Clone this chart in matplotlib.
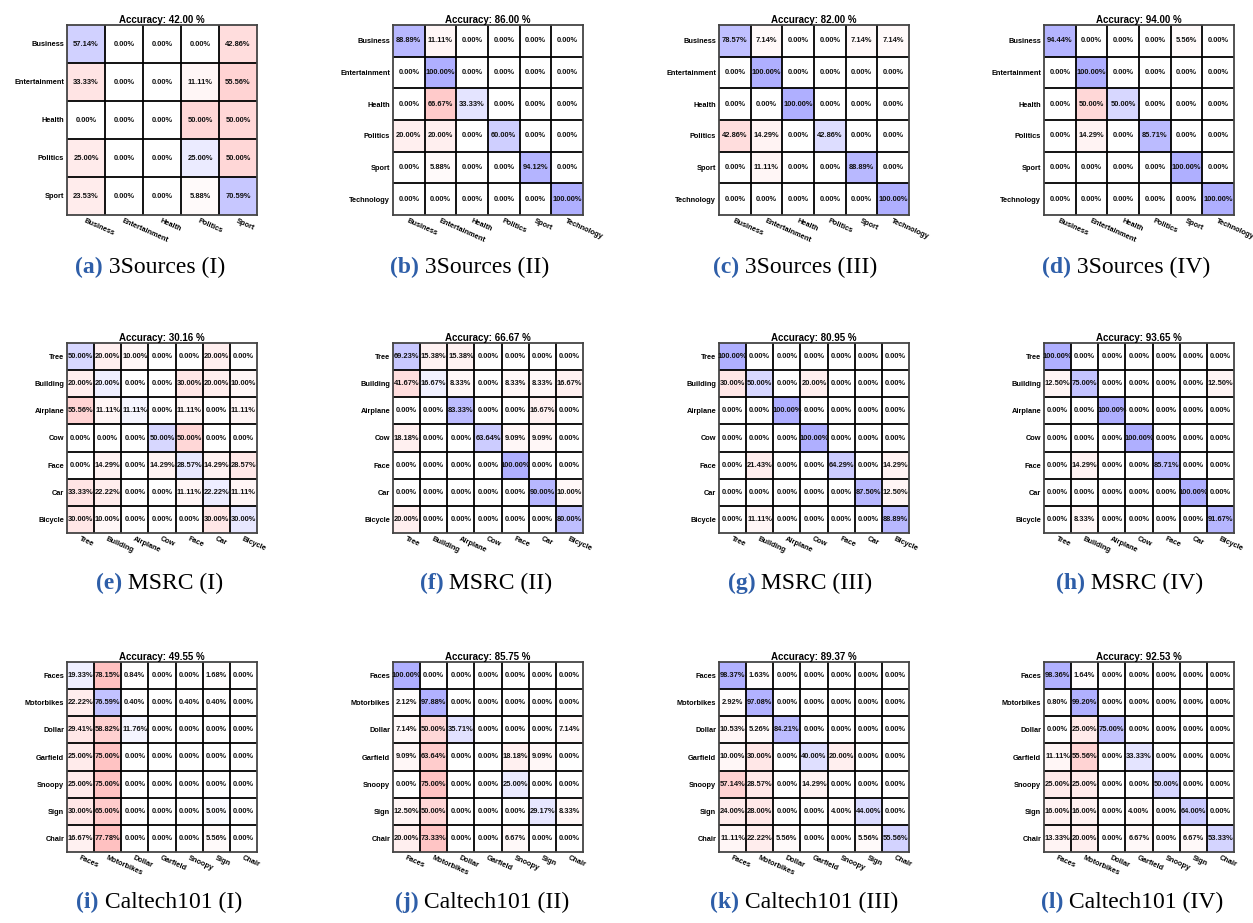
import matplotlib
matplotlib.use('Agg')
import matplotlib.pyplot as plt
import numpy as np

plt.rcParams['font.family'] = ['Liberation Sans', 'DejaVu Sans']

# class names
SOURCES5 = ['Business', 'Entertainment', 'Health', 'Politics', 'Sport']
SOURCES6 = SOURCES5 + ['Technology']
MSRC = ['Tree', 'Building', 'Airplane', 'Cow', 'Face', 'Car', 'Bicycle']
CALTECH = ['Faces', 'Motorbikes', 'Dollar', 'Garfield', 'Snoopy', 'Sign', 'Chair']

# confusion matrices (% per row)
cm_a = [[57.14, 0, 0, 0, 42.86],
        [33.33, 0, 0, 11.11, 55.56],
        [0, 0, 0, 50, 50],
        [25, 0, 0, 25, 50],
        [23.53, 0, 0, 5.88, 70.59]]
cm_b = [[88.89, 11.11, 0, 0, 0, 0],
        [0, 100, 0, 0, 0, 0],
        [0, 66.67, 33.33, 0, 0, 0],
        [20, 20, 0, 60, 0, 0],
        [0, 5.88, 0, 0, 94.12, 0],
        [0, 0, 0, 0, 0, 100]]
cm_c = [[78.57, 7.14, 0, 0, 7.14, 7.14],
        [0, 100, 0, 0, 0, 0],
        [0, 0, 100, 0, 0, 0],
        [42.86, 14.29, 0, 42.86, 0, 0],
        [0, 11.11, 0, 0, 88.89, 0],
        [0, 0, 0, 0, 0, 100]]
cm_d = [[94.44, 0, 0, 0, 5.56, 0],
        [0, 100, 0, 0, 0, 0],
        [0, 50, 50, 0, 0, 0],
        [0, 14.29, 0, 85.71, 0, 0],
        [0, 0, 0, 0, 100, 0],
        [0, 0, 0, 0, 0, 100]]
cm_e = [[50, 20, 10, 0, 0, 20, 0],
        [20, 20, 0, 0, 30, 20, 10],
        [55.56, 11.11, 11.11, 0, 11.11, 0, 11.11],
        [0, 0, 0, 50, 50, 0, 0],
        [0, 14.29, 0, 14.29, 28.57, 14.29, 28.57],
        [33.33, 22.22, 0, 0, 11.11, 22.22, 11.11],
        [30, 10, 0, 0, 0, 30, 30]]
cm_f = [[69.23, 15.38, 15.38, 0, 0, 0, 0],
        [41.67, 16.67, 8.33, 0, 8.33, 8.33, 16.67],
        [0, 0, 83.33, 0, 0, 16.67, 0],
        [18.18, 0, 0, 63.64, 9.09, 9.09, 0],
        [0, 0, 0, 0, 100, 0, 0],
        [0, 0, 0, 0, 0, 90, 10],
        [20, 0, 0, 0, 0, 0, 80]]
cm_g = [[100, 0, 0, 0, 0, 0, 0],
        [30, 50, 0, 20, 0, 0, 0],
        [0, 0, 100, 0, 0, 0, 0],
        [0, 0, 0, 100, 0, 0, 0],
        [0, 21.43, 0, 0, 64.29, 0, 14.29],
        [0, 0, 0, 0, 0, 87.5, 12.5],
        [0, 11.11, 0, 0, 0, 0, 88.89]]
cm_h = [[100, 0, 0, 0, 0, 0, 0],
        [12.5, 75, 0, 0, 0, 0, 12.5],
        [0, 0, 100, 0, 0, 0, 0],
        [0, 0, 0, 100, 0, 0, 0],
        [0, 14.29, 0, 0, 85.71, 0, 0],
        [0, 0, 0, 0, 0, 100, 0],
        [0, 8.33, 0, 0, 0, 0, 91.67]]
cm_i = [[19.33, 78.15, 0.84, 0, 0, 1.68, 0],
        [22.22, 76.59, 0.40, 0, 0.40, 0.40, 0],
        [29.41, 58.82, 11.76, 0, 0, 0, 0],
        [25, 75, 0, 0, 0, 0, 0],
        [25, 75, 0, 0, 0, 0, 0],
        [30, 65, 0, 0, 0, 5, 0],
        [16.67, 77.78, 0, 0, 0, 5.56, 0]]
cm_j = [[100, 0, 0, 0, 0, 0, 0],
        [2.12, 97.88, 0, 0, 0, 0, 0],
        [7.14, 50, 35.71, 0, 0, 0, 7.14],
        [9.09, 63.64, 0, 0, 18.18, 9.09, 0],
        [0, 75, 0, 0, 25, 0, 0],
        [12.5, 50, 0, 0, 0, 29.17, 8.33],
        [20, 73.33, 0, 0, 6.67, 0, 0]]
cm_k = [[98.37, 1.63, 0, 0, 0, 0, 0],
        [2.92, 97.08, 0, 0, 0, 0, 0],
        [10.53, 5.26, 84.21, 0, 0, 0, 0],
        [10, 30, 0, 40, 20, 0, 0],
        [57.14, 28.57, 0, 14.29, 0, 0, 0],
        [24, 28, 0, 0, 4, 44, 0],
        [11.11, 22.22, 5.56, 0, 0, 5.56, 55.56]]
cm_l = [[98.36, 1.64, 0, 0, 0, 0, 0],
        [0.80, 99.20, 0, 0, 0, 0, 0],
        [0, 25, 75, 0, 0, 0, 0],
        [11.11, 55.56, 0, 33.33, 0, 0, 0],
        [25, 25, 0, 0, 50, 0, 0],
        [16, 16, 0, 4, 0, 64, 0],
        [13.33, 20, 0, 6.67, 0, 6.67, 53.33]]

accuracies = [42.00, 86.00, 82.00, 94.00,
              30.16, 66.67, 80.95, 93.65,
              49.55, 85.75, 89.37, 92.53]
tags = ['(a)', '(b)', '(c)', '(d)', '(e)', '(f)', '(g)', '(h)',
        '(i)', '(j)', '(k)', '(l)']
names = ['3Sources (I)', '3Sources (II)', '3Sources (III)', '3Sources (IV)',
         'MSRC (I)', 'MSRC (II)', 'MSRC (III)', 'MSRC (IV)',
         'Caltech101 (I)', 'Caltech101 (II)', 'Caltech101 (III)',
         'Caltech101 (IV)']
matrices = [cm_a, cm_b, cm_c, cm_d, cm_e, cm_f, cm_g, cm_h,
            cm_i, cm_j, cm_k, cm_l]
label_sets = [SOURCES5, SOURCES6, SOURCES6, SOURCES6] + [MSRC] * 4 + [CALTECH] * 4

W, H = 1253, 923
COL_X = [67, 393, 719, 1044]      # left edge of each matrix, px
ROW_Y = [25, 343, 662]            # top edge of each matrix, px
SIZE = 190
CAP_Y = [267, 583, 902]
CAP_X = [[150, 470, 795, 1126],
         [160, 486, 800, 1130],
         [159, 482, 804, 1132]]
TAG_COLOR = '#2e5ea8'


def cell_colors(cm, strength=0.31):
    """Blue on the diagonal, red elsewhere, fading to white at 0 %."""
    a = strength * np.asarray(cm, dtype=float) / 100
    n = len(a)
    rgb = np.ones((n, n, 3))
    diag = np.eye(n, dtype=bool)
    rgb[..., 0] = np.where(diag, 1 - a, 1)
    rgb[..., 1] = 1 - a
    rgb[..., 2] = np.where(diag, 1, 1 - a)
    return rgb


def plot_confusion(ax, cm, labels, acc):
    n = len(labels)
    ax.imshow(cell_colors(cm), interpolation='none', aspect='auto',
              extent=(-0.5, n - 0.5, n - 0.5, -0.5))
    for k in range(1, n):
        ax.axhline(k - 0.5, color='black', lw=1.3)
        ax.axvline(k - 0.5, color='black', lw=1.3)
    for i in range(n):
        for j in range(n):
            ax.text(j, i, f'{cm[i][j]:.2f}%', ha='center', va='center',
                    fontsize=5.4, fontweight='bold', color='#111')
    ax.set_xticks(range(n))
    ax.set_xticklabels(labels, rotation=-24, ha='left', va='top',
                       rotation_mode='anchor', fontsize=5.3, fontweight='bold')
    ax.set_yticks(range(n))
    ax.set_yticklabels(labels, fontsize=5.3, fontweight='bold')
    ax.tick_params(length=0, pad=2)
    ax.set_xlim(-0.5, n - 0.5)
    ax.set_ylim(n - 0.5, -0.5)
    for s in ax.spines.values():
        s.set_linewidth(1.3)
        s.set_color('#444')
    ax.set_title(f'Accuracy: {acc:.2f} %', fontsize=7, fontweight='bold', pad=1.5)


def add_caption(fig, cx, cy, tag, name):
    r = fig.canvas.get_renderer()
    kw = dict(family='Liberation Serif', fontsize=17, va='center', ha='left')
    t1 = fig.text(0, 1 - cy / H, tag, color=TAG_COLOR, fontweight='bold', **kw)
    t2 = fig.text(0, 1 - cy / H, ' ' + name, color='black', **kw)
    w1 = t1.get_window_extent(r).width
    w2 = t2.get_window_extent(r).width
    x0 = cx - (w1 + w2) / 2
    t1.set_x(x0 / W)
    t2.set_x((x0 + w1) / W)


fig = plt.figure(figsize=(W / 100, H / 100), dpi=100)

for idx, (cm, labels, acc) in enumerate(zip(matrices, label_sets, accuracies)):
    row, col = divmod(idx, 4)
    ax = fig.add_axes([COL_X[col] / W, 1 - (ROW_Y[row] + SIZE) / H,
                       SIZE / W, SIZE / H])
    plot_confusion(ax, cm, labels, acc)
    add_caption(fig, CAP_X[row][col], CAP_Y[row], tags[idx], names[idx])

fig.savefig('out.png', dpi=100, facecolor='white')
